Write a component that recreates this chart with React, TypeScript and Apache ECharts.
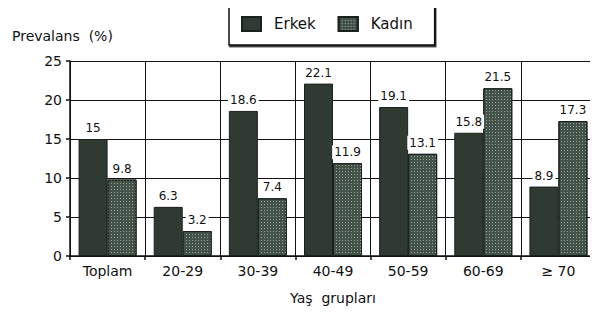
import React, { useEffect, useRef } from "react";
import * as echarts from "echarts";

const categories = ["Toplam", "20-29", "30-39", "40-49", "50-59", "60-69", "≥ 70"];
const erkek = [15, 6.3, 18.6, 22.1, 19.1, 15.8, 8.9];
const kadin = [9.8, 3.2, 7.4, 11.9, 13.1, 21.5, 17.3];
const yTicks = [0, 5, 10, 15, 20, 25];

const FONT = "'DejaVu Sans', 'Liberation Sans', Arial, sans-serif";

export default function App() {
  const ref = useRef<HTMLDivElement>(null);
  useEffect(() => {
    if (!ref.current) return;
    const chart = echarts.init(ref.current, null, { renderer: "svg" });
    const label = {
      show: true,
      position: "top" as const,
      distance: 4,
      color: "#111",
      fontSize: 12,
      fontFamily: FONT,
      backgroundColor: "#fff",
      padding: [1, 2],
    };
    chart.setOption({
      animation: false,
      backgroundColor: "#fff",
      textStyle: { fontFamily: FONT },
      legend: {
        left: 229,
        top: 3,
        padding: [13, 22, 13, 12],
        borderColor: "#111",
        borderWidth: 1.5,
        backgroundColor: "#fff",
        shadowColor: "#222",
        shadowOffsetX: 1,
        shadowOffsetY: 1.5,
        shadowBlur: 0,
        itemWidth: 19,
        itemHeight: 14,
        itemGap: 22,
        icon: "rect",
        textStyle: { fontSize: 15, color: "#111", fontFamily: FONT, padding: [0, 0, 0, 8] },
        data: ["Erkek", "Kadın"],
      },
      graphic: [
        {
          type: "text",
          left: 12,
          top: 29,
          style: { text: "Prevalans  (%)", fontSize: 14, fill: "#111", fontFamily: FONT },
        },
      ],
      grid: { left: 70, right: 2, top: 61, bottom: 62 },
      xAxis: {
        type: "category",
        data: categories,
        name: "Yaş  grupları",
        nameLocation: "middle",
        nameGap: 35,
        nameTextStyle: { fontSize: 14, color: "#111", fontFamily: FONT },
        axisLine: { lineStyle: { color: "#111", width: 1.5 } },
        axisTick: { show: true, length: 4, lineStyle: { color: "#111", width: 1.5 } },
        axisLabel: { fontSize: 14, color: "#111", margin: 8, interval: 0, fontFamily: FONT },
        splitLine: { show: true, lineStyle: { color: "#111", width: 1 } },
      },
      yAxis: {
        type: "value",
        min: 0,
        max: 25,
        interval: 5,
        axisLine: { show: true, lineStyle: { color: "#111", width: 1.5 } },
        axisTick: { show: true, length: 4, lineStyle: { color: "#111", width: 1.5 } },
        axisLabel: {
          fontSize: 14,
          color: "#111",
          margin: 8,
          fontFamily: FONT,
          formatter: (v: number) => (yTicks.includes(v) ? String(v) : ""),
        },
        splitLine: { show: true, lineStyle: { color: "#111", width: 1 } },
      },
      series: [
        {
          name: "Erkek",
          type: "bar",
          data: erkek,
          barWidth: 29,
          barGap: "0%",
          itemStyle: { color: "#2f3a32", borderColor: "#1a201b", borderWidth: 1 },
          label,
        },
        {
          name: "Kadın",
          type: "bar",
          data: kadin,
          barWidth: 29,
          barGap: "0%",
          itemStyle: {
            color: "#44534a",
            borderColor: "#1a201b",
            borderWidth: 1,
            decal: {
              symbol: "rect",
              symbolSize: 1,
              color: "rgba(220,230,220,0.55)",
              dashArrayX: [1, 2],
              dashArrayY: [1, 2],
              rotation: 0,
            },
          },
          label,
        },
      ],
    });
    return () => chart.dispose();
  }, []);
  return <div ref={ref} style={{ width: 598, height: 318, margin: -8 }} />;
}
